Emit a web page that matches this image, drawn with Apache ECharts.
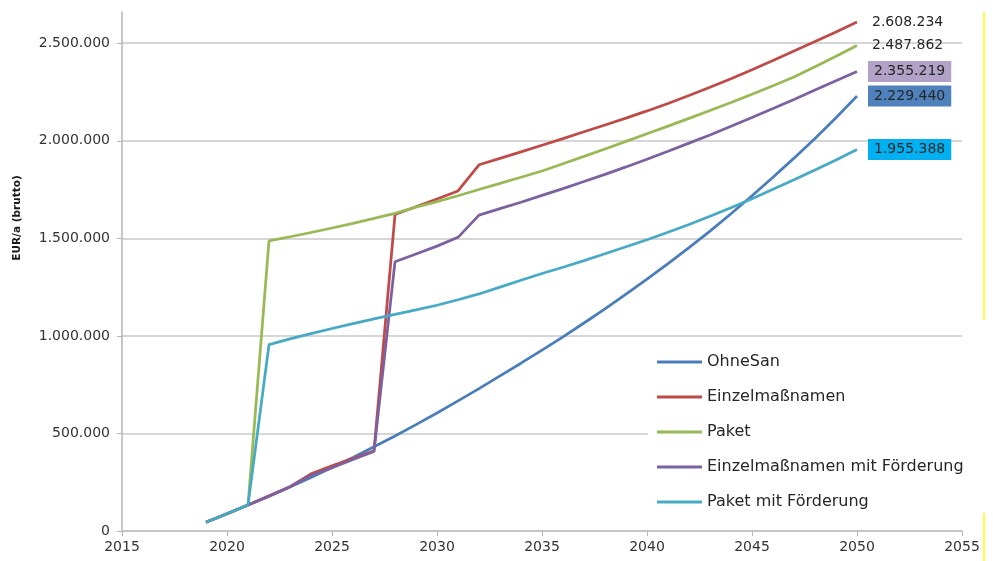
<!DOCTYPE html>
<html>
<head>
<meta charset="utf-8">
<script src="https://cdn.jsdelivr.net/npm/echarts@6/dist/echarts.min.js"></script>
<style>
  html, body { margin: 0; padding: 0; background: #ffffff; }
  #chart { width: 993px; height: 561px; }
</style>
</head>
<body>
<div id="chart"></div>
<script>
// Jahre der Prognose
const years = [2019, 2020, 2021, 2022, 2023, 2024, 2025, 2026, 2027, 2028,
               2029, 2030, 2031, 2032, 2033, 2034, 2035, 2036, 2037, 2038,
               2039, 2040, 2041, 2042, 2043, 2044, 2045, 2046, 2047, 2048,
               2049, 2050];

// Kosten in EUR/a (brutto) je Variante
const ohneSan = [45000, 88000, 133000, 178000, 225000, 274000, 325000, 377000, 432000, 487000,
                 545000, 605000, 667000, 730000, 795000, 860000, 927000, 995000, 1066000, 1139000,
                 1214000, 1291000, 1370000, 1452000, 1537000, 1626000, 1718000, 1813000, 1911000, 2012000,
                 2118000, 2229440];
const einzelmassnamen = [45000, 88000, 133000, 180000, 227000, 293000, 334000, 372000, 411000, 1622000,
                         1662000, 1702000, 1743000, 1877000, 1910000, 1943000, 1977000, 2011000, 2046000, 2081000,
                         2116000, 2153000, 2191000, 2232000, 2274000, 2318000, 2364000, 2411000, 2460000, 2509000,
                         2558000, 2608234];
const paket = [45000, 88000, 133000, 1487000, 1508000, 1530000, 1553000, 1577000, 1602000, 1628000,
               1660000, 1688000, 1718000, 1750000, 1782000, 1813000, 1845000, 1882000, 1920000, 1958000,
               1997000, 2036000, 2075000, 2115000, 2155000, 2196000, 2238000, 2282000, 2327000, 2379000,
               2433000, 2487862];
const einzelmassnamenFoerderung = [45000, 88000, 133000, 178000, 227000, 285000, 324000, 366000, 408000, 1380000,
                                   1420000, 1460000, 1505000, 1619000, 1652000, 1685000, 1720000, 1755000, 1791000, 1828000,
                                   1866000, 1905000, 1946000, 1988000, 2030000, 2074000, 2119000, 2165000, 2212000, 2260000,
                                   2308000, 2355219];
const paketFoerderung = [45000, 88000, 133000, 955000, 985000, 1012000, 1038000, 1063000, 1087000, 1110000,
                         1133000, 1157000, 1185000, 1215000, 1250000, 1285000, 1320000, 1352000, 1386000, 1421000,
                         1457000, 1493000, 1531000, 1571000, 1613000, 1657000, 1703000, 1751000, 1800000, 1850000,
                         1902000, 1955388];

const seriesNames = ['OhneSan', 'Einzelmaßnamen', 'Paket', 'Einzelmaßnamen mit Förderung', 'Paket mit Förderung'];
const seriesValues = [ohneSan, einzelmassnamen, paket, einzelmassnamenFoerderung, paketFoerderung];

// Achsenteilung
const xTicks = [2015, 2020, 2025, 2030, 2035, 2040, 2045, 2050, 2055];
const yTicks = [0, 500000, 1000000, 1500000, 2000000, 2500000];

// Darstellung
const lineColors = ['#4a7ebb', '#be4b48', '#98b954', '#7d60a0', '#46aac5'];
const endLabelBoxes = ['#4f81bd', null, null, '#b3a2c7', '#00b0f0'];

const fmtDE = v => String(Math.round(v)).replace(/\B(?=(\d{3})+(?!\d))/g, '.');
const FONT = 'DejaVu Sans';

const chart = echarts.init(document.getElementById('chart'), null, { renderer: 'canvas' });

const series = seriesNames.map((name, i) => ({
  name: name,
  type: 'line',
  symbol: 'none',
  z: 2 + i,
  lineStyle: { color: lineColors[i], width: 2.75 },
  itemStyle: { color: lineColors[i] },
  data: years.map((y, k) => [y, seriesValues[i][k]]),
  endLabel: {
    show: true,
    distance: 11,
    formatter: p => fmtDE(p.value[1]),
    fontFamily: FONT,
    fontSize: 14,
    color: '#262626',
    backgroundColor: endLabelBoxes[i] || 'transparent',
    padding: endLabelBoxes[i] ? [4, 6, 3, 6] : [4, 6, 3, 4]
  }
}));

chart.setOption({
  animation: false,
  backgroundColor: '#ffffff',
  grid: { left: 122, right: 31, top: 12, bottom: 30, containLabel: false },
  xAxis: {
    type: 'value',
    min: xTicks[0],
    max: xTicks[xTicks.length - 1],
    interval: 5,
    axisLine: { show: true, lineStyle: { color: '#b4b4b4', width: 1.5 } },
    axisTick: { show: true, length: 5, lineStyle: { color: '#b4b4b4', width: 1 } },
    axisLabel: {
      formatter: v => String(v),
      fontFamily: FONT, fontSize: 14, color: '#333333', margin: 9
    },
    splitLine: { show: false }
  },
  yAxis: {
    type: 'value',
    min: 0,
    max: 2660000,
    interval: 500000,
    name: 'EUR/a (brutto)',
    nameLocation: 'middle',
    nameGap: 99,
    nameTextStyle: {
      fontFamily: FONT, fontSize: 10.5, fontWeight: 'bold', color: '#1a1a1a',
      padding: [0, 0, 0, 107]
    },
    axisLine: { show: true, lineStyle: { color: '#b4b4b4', width: 1.5 } },
    axisTick: { show: true, length: 5, customValues: yTicks, lineStyle: { color: '#b4b4b4', width: 1 } },
    axisLabel: {
      customValues: yTicks,
      formatter: v => fmtDE(v),
      fontFamily: FONT, fontSize: 14, color: '#333333', margin: 12
    },
    splitLine: {
      show: true,
      showMinLine: false,
      lineStyle: { color: '#c8c8c8', width: 1.5 }
    }
  },
  legend: {
    orient: 'vertical',
    left: 648,
    top: 338,
    padding: [14, 6, 10, 9],
    backgroundColor: '#ffffff',
    icon: 'rect',
    itemWidth: 45,
    itemHeight: 3,
    itemGap: 15,
    data: seriesNames,
    textStyle: { fontFamily: FONT, fontSize: 16, color: '#262626', lineHeight: 20 }
  },
  graphic: [
    { type: 'line', silent: true, shape: { x1: 984, y1: 12, x2: 984, y2: 320 }, style: { stroke: '#ffff00', lineWidth: 1.5 } },
    { type: 'line', silent: true, shape: { x1: 984, y1: 513, x2: 984, y2: 561 }, style: { stroke: '#ffff00', lineWidth: 1.5 } }
  ],
  series: series
});
</script>
</body>
</html>
